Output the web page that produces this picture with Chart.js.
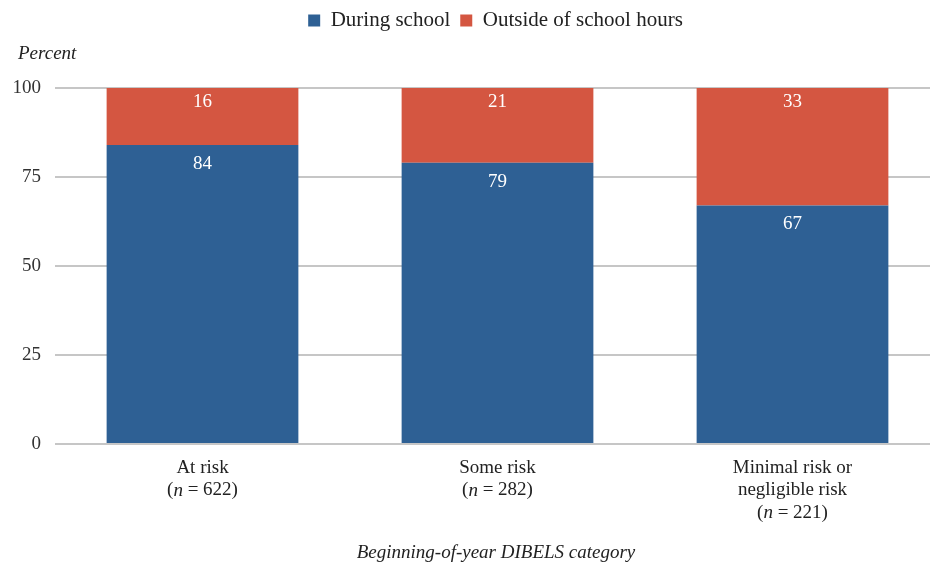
<!DOCTYPE html>
<html lang="en">
<head>
  <meta charset="UTF-8">
  <title>Reading practice by DIBELS category</title>
  <script src="https://cdn.jsdelivr.net/npm/chart.js"></script>
  <style>
    html, body { margin: 0; padding: 0; background: #fff; overflow: hidden; }
    #wrap { width: 940px; height: 566px; }
  </style>
</head>
<body>
  <div id="wrap"><canvas id="usageChart" width="940" height="566"></canvas></div>
  <script>
    // categories and sample sizes
    const categories = [["At risk"], ["Some risk"], ["Minimal risk or", "negligible risk"]];
    const sampleSizes = [622, 282, 221];
    // percent of sessions
    const duringSchool = [84, 79, 67];
    const outsideSchool = [16, 21, 33];
    const yTicks = [0, 25, 50, 75, 100];

    const FONT = "'Liberation Serif', 'Times New Roman', serif";
    const BLUE = "#2e6094";
    const RED = "#d45641";

    // extra room under the legend for the "Percent" label, and centre it over the plot
    const legendSpace = {
      id: "legendSpace",
      beforeInit(chart) {
        const fit = chart.legend.fit;
        chart.legend.fit = function () {
          fit.call(this);
          this.height += 47;
        };
      },
      afterLayout(chart) {
        chart.legend.left = chart.chartArea.left - 4;
        chart.legend.right = chart.chartArea.right;
      }
    };

    // white value labels near the top of each segment
    const labelOffset = [19, 14];
    const valueLabels = {
      id: "valueLabels",
      afterDatasetsDraw(chart) {
        const ctx = chart.ctx;
        ctx.save();
        ctx.fillStyle = "#fff";
        ctx.font = "19px " + FONT;
        ctx.textAlign = "center";
        ctx.textBaseline = "middle";
        chart.data.datasets.forEach((ds, di) => {
          chart.getDatasetMeta(di).data.forEach((bar, i) => {
            ctx.fillText(String(ds.data[i]), bar.x, bar.y + labelOffset[di]);
          });
        });
        ctx.restore();
      }
    };

    // category labels with italic "n", y title and x title
    const axisText = {
      id: "axisText",
      afterDraw(chart) {
        const ctx = chart.ctx;
        const xs = chart.scales.x;
        const area = chart.chartArea;
        ctx.save();
        ctx.fillStyle = "#222";
        ctx.textBaseline = "middle";
        const lineH = 22.5;
        categories.forEach((lines, i) => {
          const cx = xs.getPixelForValue(i);
          let y = area.bottom + 24;
          ctx.font = "19px " + FONT;
          ctx.textAlign = "center";
          lines.forEach(t => { ctx.fillText(t, cx, y); y += lineH; });
          // "(n = 622)" with italic n
          const parts = [["(", "normal"], ["n", "italic"], [" = " + sampleSizes[i] + ")", "normal"]];
          let total = 0;
          parts.forEach(p => { ctx.font = p[1] + " 19px " + FONT; total += ctx.measureText(p[0]).width; });
          let x = cx - total / 2;
          ctx.textAlign = "left";
          parts.forEach(p => {
            ctx.font = p[1] + " 19px " + FONT;
            ctx.fillText(p[0], x, y);
            x += ctx.measureText(p[0]).width;
          });
        });
        ctx.font = "italic 19px " + FONT;
        ctx.textAlign = "center";
        ctx.fillText("Beginning-of-year DIBELS category", 496, 553);
        ctx.textAlign = "left";
        ctx.fillText("Percent", 18, 54);
        ctx.restore();
      }
    };

    new Chart(document.getElementById("usageChart"), {
      type: "bar",
      data: {
        labels: categories.map(c => c.join(" ")),
        datasets: [
          { label: "During school", data: duringSchool, backgroundColor: BLUE },
          { label: "Outside of school hours", data: outsideSchool, backgroundColor: RED }
        ]
      },
      options: {
        responsive: false,
        animation: false,
        layout: { padding: 0 },
        datasets: { bar: { categoryPercentage: 1, barPercentage: 0.65 } },
        scales: {
          x: {
            stacked: true,
            grid: { display: false, drawTicks: false },
            border: { display: false },
            ticks: { display: false },
            afterFit(scale) { scale.height = 122; }
          },
          y: {
            stacked: true,
            min: 0,
            max: 100,
            afterBuildTicks(scale) { scale.ticks = yTicks.map(v => ({ value: v })); },
            grid: { color: "#c6c6c6", lineWidth: 2, drawTicks: false },
            border: { display: false },
            ticks: { color: "#333", padding: 14, font: { family: FONT, size: 19 } },
            afterFit(scale) { scale.width = 55; }
          }
        },
        plugins: {
          legend: {
            position: "top",
            labels: {
              boxWidth: 12,
              boxHeight: 12,
              padding: 10,
              color: "#222",
              font: { family: FONT, size: 21 }
            }
          },
          tooltip: { enabled: false }
        }
      },
      plugins: [legendSpace, valueLabels, axisText]
    });
  </script>
</body>
</html>
